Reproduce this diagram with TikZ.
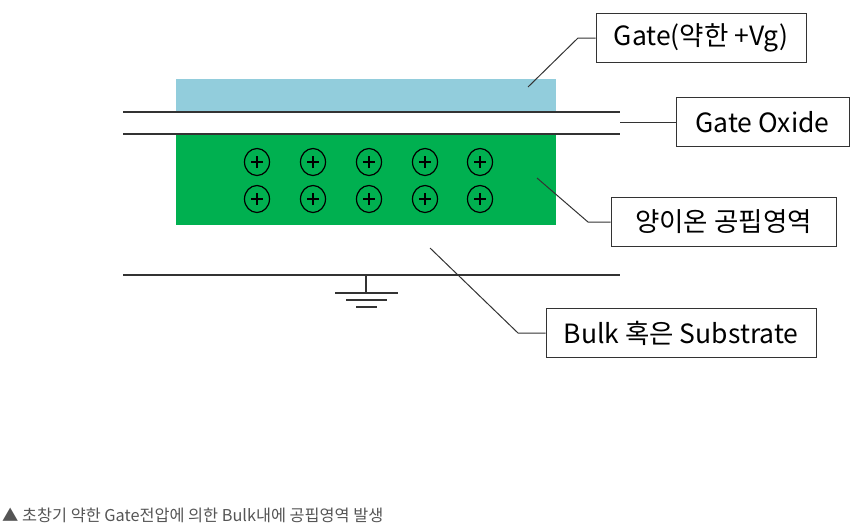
\documentclass[tikz,border=0pt]{standalone}
\usepackage{fontspec}
\setmainfont{Noto Sans CJK KR}
\usetikzlibrary{shapes.geometric}
\definecolor{gatecol}{HTML}{92CDDC}
\definecolor{bulkcol}{HTML}{00B050}
\definecolor{capcol}{HTML}{555555}
\definecolor{linecol}{HTML}{333333}
\tikzset{
  layer/.style={line width=1.2pt, draw=linecol},
  labelbox/.style={draw=linecol, line width=1pt, fill=white, inner sep=0pt, minimum height=49pt, font=\fontsize{26.5}{28}\selectfont, text=black},
  leader/.style={draw=linecol, line width=1pt},
  ion/.style={draw=black, line width=1.2pt, ellipse, minimum width=25pt, minimum height=27pt, inner sep=0pt,
    path picture={\draw[line width=1.9pt] ([xshift=-6pt]path picture bounding box.center) -- ([xshift=6pt]path picture bounding box.center);
                  \draw[line width=1.9pt] ([yshift=-6pt]path picture bounding box.center) -- ([yshift=6pt]path picture bounding box.center);}},
}
\begin{document}
\begin{tikzpicture}[x=1pt,y=-1pt]
\useasboundingbox (0,0) rectangle (857,528);
% layers
\fill[gatecol] (176,79) rectangle (556,112);
\fill[bulkcol] (176,134) rectangle (556,225);
\draw[layer] (123,112) -- (620,112);
\draw[layer] (123,134) -- (620,134);
\draw[layer] (123,275) -- (620,275);
% ground
\coordinate (gtop) at (366,275);
\coordinate (gbot) at (366,293);
\draw[layer] (gtop) -- (gbot);
\draw[layer] (335,293) -- (398,293);
\draw[layer] (346,300) -- (387,300);
\draw[layer] (356,307) -- (377,307);
% ions
\foreach \i/\x in {1/257,2/313,3/369,4/425,5/480}{
  \node[ion] (a\i) at (\x,162) {};
  \node[ion] (b\i) at (\x,199) {};
}
% label boxes
\node[labelbox, minimum width=210pt] (gate) at (701,38) {Gate(약한 +Vg)};
\node[labelbox, minimum width=173pt] (oxide) at (762.5,122) {Gate Oxide};
\node[labelbox, minimum width=225pt] (ion) at (723.5,222) {양이온 공핍영역};
\node[labelbox, minimum width=270pt] (bulk) at (681,333) {Bulk 혹은 Substrate};
% leaders
\coordinate (g0) at (528,87);
\coordinate (g1) at (578,38);
\draw[leader] (g0) -- (g1) -- (gate.west);
\coordinate (o0) at (620,122);
\draw[leader] (o0) -- (oxide.west);
\coordinate (i0) at (537,178);
\coordinate (i1) at (588,222);
\draw[leader] (i0) -- (i1) -- (ion.west);
\coordinate (s0) at (430,248);
\coordinate (s1) at (518,333);
\draw[leader] (s0) -- (s1) -- (bulk.west);
% caption
\node[anchor=west, inner sep=0pt, text=capcol, font=\fontsize{16.3}{18}\selectfont] (cap) at (2,515) {▲ 초창기 약한 Gate전압에 의한 Bulk내에 공핍영역 발생};
\end{tikzpicture}
\end{document}
